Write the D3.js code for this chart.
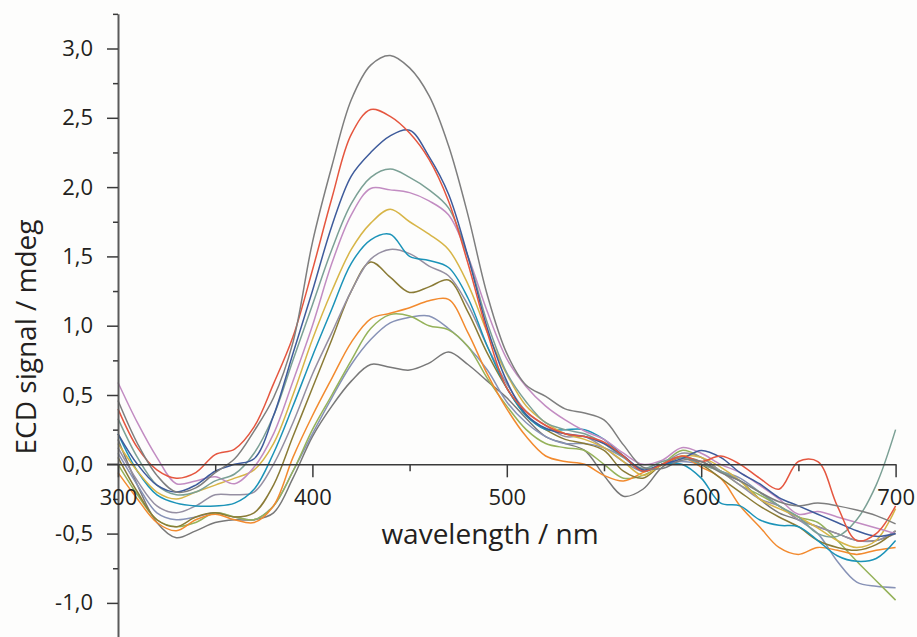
<!DOCTYPE html>
<html>
<head>
<meta charset="utf-8">
<script src="https://cdn.jsdelivr.net/npm/d3@7"></script>
<style>
  html, body { margin: 0; padding: 0; background: #fdfdfc; }
  svg { display: block; }
  text { font-family: "Open Sans", "Noto Sans", sans-serif; fill: #231f20; }
</style>
</head>
<body>
<svg id="chart" width="917" height="637"></svg>
<script>
// ECD spectra, one value every 10 nm from 300 to 700 nm (mdeg)
const wavelengths = [300,310,320,330,340,350,360,370,380,390,400,410,420,430,440,450,460,470,480,490,
                     500,510,520,530,540,550,560,570,580,590,600,610,620,630,640,650,660,670,680,690,700];

const xTicks = [300, 400, 500, 600, 700];
const xMinorTicks = [350, 450, 550, 650];
const yTicks = [-1, -0.5, 0, 0.5, 1, 1.5, 2, 2.5, 3];
const yMinorTicks = [-1.25, -0.75, -0.25, 0.25, 0.75, 1.25, 1.75, 2.25, 2.75, 3.25];

const spectrumGray = [0.46,0.15,-0.08,-0.2,-0.17,-0.06,0.04,0.24,0.48,0.88, 1.6,2.15,2.63,2.88,2.95,2.86,2.66,2.3,1.8,1.22,
  0.8,0.57,0.49,0.4,0.37,0.32,0.14,-0.02,-0.03,0.03, 0.02,-0.06,-0.12,-0.2,-0.27,-0.3,-0.28,-0.3,-0.33,-0.37, -0.43];
const spectrumRed = [0.40,0.12,-0.04,-0.1,-0.06,0.07,0.11,0.27,0.58,0.92, 1.4,1.92,2.38,2.56,2.51,2.39,2.2,1.9,1.45,0.95,
  0.55,0.38,0.28,0.22,0.2,0.16,0.06,-0.05,0.0,0.06, 0.02,0.06,0.0,-0.1,-0.18,0.02,0.02,-0.3,-0.55,-0.5, -0.3];
const spectrumBlue = [0.22,0.0,-0.15,-0.2,-0.15,-0.05,0.0,0.04,0.35,0.8, 1.25,1.72,2.08,2.25,2.37,2.41,2.22,1.95,1.5,0.98,
  0.6,0.36,0.26,0.22,0.2,0.15,0.06,-0.04,0.0,0.04, 0.1,0.05,-0.06,-0.14,-0.24,-0.3,-0.36,-0.42,-0.48,-0.52, -0.5];
const spectrumSage = [0.33,0.05,-0.15,-0.22,-0.2,-0.12,-0.07,0.08,0.35,0.75, 1.15,1.55,1.88,2.07,2.13,2.07,1.98,1.85,1.5,1.02,
  0.66,0.45,0.3,0.25,0.22,0.15,0.05,-0.03,0.02,0.05, 0.0,-0.05,-0.12,-0.2,-0.3,-0.38,-0.5,-0.52,-0.4,-0.15, 0.25];
const spectrumPink = [0.59,0.3,0.05,-0.14,-0.12,-0.09,-0.14,-0.02,0.22,0.6, 1.0,1.45,1.8,1.99,1.98,1.96,1.9,1.8,1.5,1.1,
  0.76,0.56,0.42,0.32,0.24,0.18,0.08,0.0,0.03,0.12, 0.08,0.0,-0.06,-0.15,-0.25,-0.36,-0.34,-0.38,-0.42,-0.46, -0.5];
const spectrumGold = [0.15,-0.05,-0.2,-0.25,-0.2,-0.15,-0.1,-0.04,0.15,0.5, 0.9,1.25,1.55,1.74,1.84,1.75,1.66,1.55,1.3,0.95,
  0.65,0.42,0.3,0.22,0.18,0.12,0.02,-0.08,0.0,0.06, 0.05,-0.02,-0.12,-0.25,-0.32,-0.38,-0.46,-0.55,-0.6,-0.55, -0.32];
const spectrumTeal = [0.22,-0.05,-0.22,-0.28,-0.3,-0.3,-0.28,-0.18,0.08,0.42, 0.78,1.12,1.45,1.62,1.66,1.5,1.47,1.42,1.2,0.85,
  0.55,0.35,0.25,0.25,0.25,0.18,0.06,-0.05,0.0,0.0, -0.1,-0.28,-0.3,-0.4,-0.44,-0.45,-0.55,-0.66,-0.7,-0.68, -0.55];
const spectrumMauve = [0.12,-0.12,-0.3,-0.35,-0.3,-0.22,-0.22,-0.2,0.0,0.3, 0.65,0.95,1.25,1.48,1.55,1.52,1.43,1.36,1.15,0.85,
  0.58,0.38,0.28,0.2,0.2,0.12,0.02,-0.05,0.0,0.08, 0.05,-0.05,-0.15,-0.25,-0.3,-0.4,-0.45,-0.5,-0.55,-0.55, -0.48];
const spectrumOlive = [0.05,-0.2,-0.4,-0.45,-0.38,-0.35,-0.38,-0.35,-0.15,0.2, 0.55,0.9,1.25,1.46,1.35,1.24,1.28,1.33,1.1,0.8,
  0.55,0.35,0.25,0.18,0.15,0.1,-0.05,-0.1,0.0,0.05, 0.0,-0.1,-0.2,-0.3,-0.38,-0.45,-0.55,-0.6,-0.62,-0.58, -0.48];
const spectrumOrange = [-0.06,-0.25,-0.42,-0.48,-0.4,-0.36,-0.4,-0.42,-0.3,0.05, 0.35,0.62,0.88,1.05,1.09,1.13,1.18,1.19,0.95,0.65,
  0.4,0.2,0.06,0.02,0.0,-0.08,-0.12,-0.06,0.0,0.05, -0.02,-0.1,-0.3,-0.45,-0.6,-0.65,-0.6,-0.62,-0.65,-0.62, -0.6];
const spectrumGreen = [0.0,-0.22,-0.4,-0.45,-0.42,-0.35,-0.38,-0.4,-0.3,-0.05, 0.25,0.5,0.75,0.98,1.08,1.07,1.0,0.97,0.85,0.62,
  0.42,0.25,0.15,0.12,0.1,0.0,-0.1,-0.08,0.0,0.1, 0.05,-0.05,-0.15,-0.22,-0.3,-0.38,-0.42,-0.55,-0.7,-0.84, -0.98];
const spectrumSlate = [0.08,-0.15,-0.35,-0.4,-0.38,-0.35,-0.38,-0.4,-0.3,-0.05, 0.22,0.48,0.72,0.9,1.02,1.06,1.07,0.98,0.85,0.68,
  0.45,0.3,0.2,0.15,0.15,0.12,0.05,-0.05,0.0,0.02, 0.0,-0.05,-0.1,-0.2,-0.3,-0.4,-0.5,-0.7,-0.85,-0.88, -0.89];
const spectrumDark = [0.18,-0.15,-0.42,-0.53,-0.48,-0.42,-0.4,-0.4,-0.35,-0.1, 0.2,0.42,0.6,0.72,0.7,0.68,0.73,0.81,0.72,0.6,
  0.48,0.33,0.2,0.15,0.1,-0.08,-0.23,-0.18,-0.02,0.05, 0.02,-0.05,-0.12,-0.25,-0.35,-0.4,-0.45,-0.5,-0.55,-0.55, -0.5];

const seriesValues = [spectrumDark, spectrumSlate, spectrumGreen, spectrumOrange, spectrumOlive, spectrumMauve,
  spectrumTeal, spectrumGold, spectrumPink, spectrumSage, spectrumBlue, spectrumRed, spectrumGray];
const seriesColors = ["#787878", "#8792b6", "#95b25a", "#f28a2e", "#8a7b36", "#958fa2",
  "#1b93b8", "#d7b547", "#c28cc2", "#7ba095", "#3e5b9b", "#e5563f", "#7e7e7e"];

const svg = d3.select("#chart");
const x = d3.scaleLinear().domain([300, 700]).range([118, 895.6]);
const y = d3.scaleLinear().domain([-1.25, 3.25]).range([637.55, 13.85]);

const locale = d3.formatLocale({ decimal: ",", thousands: ".", grouping: [3], currency: ["", ""], minus: "-" });
const fmt = locale.format(".1f");

// spectra
const line = d3.line()
  .x((d, i) => x(wavelengths[i]))
  .y(d => y(d))
  .curve(d3.curveCatmullRom.alpha(0.5));

svg.append("g").selectAll("path")
  .data(seriesValues)
  .join("path")
  .attr("d", d => line(d))
  .attr("fill", "none")
  .attr("stroke", (d, i) => seriesColors[i])
  .attr("stroke-width", 1.5)
  .attr("stroke-linejoin", "round");

// y axis
const yAxis = svg.append("g").attr("transform", `translate(${x(300)},0)`)
  .call(d3.axisLeft(y).tickValues(yTicks).tickSize(11).tickSizeOuter(0).tickPadding(14).tickFormat(fmt));
svg.append("g").attr("transform", `translate(${x(300)},0)`)
  .call(d3.axisLeft(y).tickValues(yMinorTicks).tickSize(5).tickFormat(""))
  .select(".domain").remove();

// x axis at zero
const xAxis = svg.append("g").attr("transform", `translate(0,${y(0)})`)
  .call(d3.axisBottom(x).tickValues(xTicks).tickSize(13).tickSizeOuter(0).tickPadding(12).tickFormat(d3.format("d")));
svg.append("g").attr("transform", `translate(0,${y(0)})`)
  .call(d3.axisBottom(x).tickValues(xMinorTicks).tickSize(7).tickFormat(""))
  .select(".domain").remove();
svg.append("line")
  .attr("x1", x(300) - 11).attr("x2", x(300))
  .attr("y1", y(0)).attr("y2", y(0))
  .attr("stroke", "#3a3a3a").attr("stroke-width", 1.5);

svg.selectAll(".domain, .tick line").attr("stroke", "#3a3a3a").attr("stroke-width", 1.5);
yAxis.select(".domain").attr("stroke", "#5a5a5a").attr("stroke-width", 2);
svg.selectAll(".tick text").style("font-size", "22px").attr("fill", "#231f20");

// axis titles
svg.append("text")
  .attr("x", 490).attr("y", 544)
  .attr("text-anchor", "middle")
  .style("font-size", "28px")
  .text("wavelength / nm");

svg.append("text")
  .attr("transform", "translate(36,337) rotate(-90)")
  .attr("text-anchor", "middle")
  .style("font-size", "28px")
  .text("ECD signal / mdeg");
</script>
</body>
</html>
